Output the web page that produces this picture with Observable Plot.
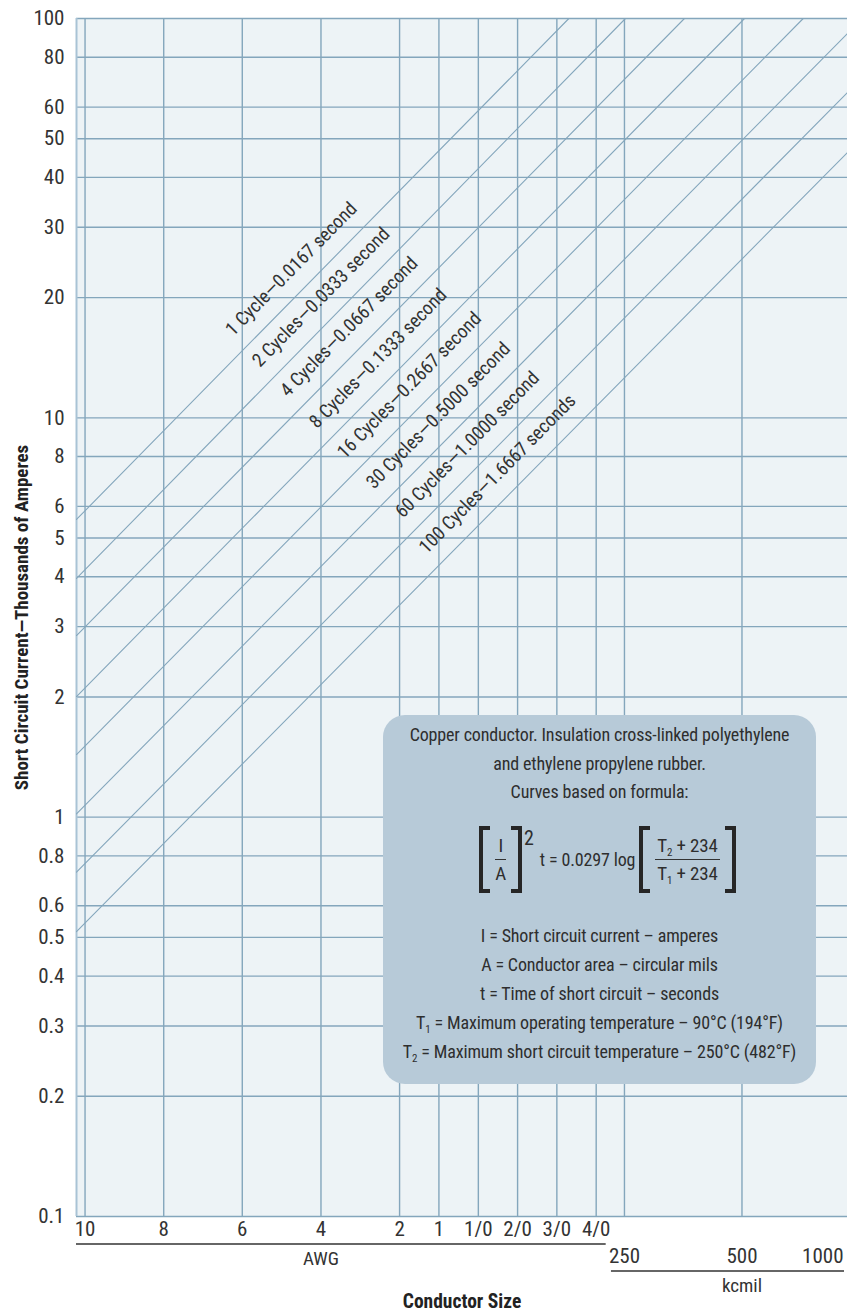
<!DOCTYPE html>
<html><head><meta charset="utf-8">
<script src="https://cdn.jsdelivr.net/npm/d3@7"></script>
<script src="https://cdn.jsdelivr.net/npm/@observablehq/plot@0.6"></script>
<style>
body{margin:0;background:#fff;}
#wrap{position:relative;width:847px;height:1315px;overflow:hidden;font-family:"Roboto Condensed",sans-serif;}
#note{position:absolute;left:383px;top:715px;width:433px;height:369px;background:#b7cad8;border-radius:22px;color:#2e2e2e;font-size:18px;letter-spacing:-0.15px;text-align:center;}
#note .blk{position:absolute;left:0;right:0;}
#note .t1{top:6px;line-height:28.5px;}
#note .f{top:111px;height:67px;display:flex;align-items:center;justify-content:center;padding-left:16px;}
#note .t2{top:206px;line-height:29px;}
.br{display:inline-block;width:7px;height:59px;border:4.5px solid #262626;}
.br.l{border-right:none;} .br.r{border-left:none;}
.frac{display:inline-flex;flex-direction:column;align-items:stretch;margin:0 5px;line-height:27px;font-size:19px;}
.frac span:first-child{border-bottom:1.5px solid #333;padding:0 2px;}
sub{font-size:11px;vertical-align:-4px;line-height:0;}
.sup{align-self:flex-start;margin:0 6px 0 2px;font-size:20px;}
</style></head>
<body><div id="wrap"></div>
<script>
// ---- data ----
const awgLabels = ["10","8","6","4","2","1","1/0","2/0","3/0","4/0"];
const awgCmil = [10380, 16510, 26240, 41740, 66360, 83690, 105600, 133100, 167800, 211600];
const kcmilLabels = ["250","500","1000"];
const kcmilCmil = [250000, 500000, 1000000];
const currentTicks = [0.1,0.2,0.3,0.4,0.5,0.6,0.8,1,2,3,4,5,6,8,10,20,30,40,50,60,80,100];
const cycleLabels = ["1 Cycle—0.0167 second","2 Cycles—0.0333 second","4 Cycles—0.0667 second","8 Cycles—0.1333 second","16 Cycles—0.2667 second","30 Cycles—0.5000 second","60 Cycles—1.0000 second","100 Cycles—1.6667 seconds"];
// current (kA) where each line enters at the left edge of the chart
const currentAtLeftEdge = [5.565, 3.960, 2.850, 2.005, 1.435, 1.019, 0.728, 0.517];
// where each line leaves the chart (size in cmil, current in kA)
const endSize = [180100, 251500, 356100, 507600, 717600, 931700, 931700, 931700];
const endCurrent = [100, 100, 100, 100, 100, 91.7, 65.3, 46.2];
// conductor size at which each line's label sits
const labelSize = [26640, 31170, 36780, 43640, 51470, 61070, 72460, 83360];

// ---- chart ----
const fontFamily = '"Roboto Condensed", sans-serif';
const xMin = 9870, xMax = 931700;
const W = 847, H = 1315, mT = 18, mB = 99, mL = 76;
const rows = [];
cycleLabels.forEach((name,i)=>{
  rows.push({name, size:xMin, current:currentAtLeftEdge[i]});
  rows.push({name, size:endSize[i], current:endCurrent[i]});
});
const labels = cycleLabels.map((name,i)=>{
  const s=labelSize[i];
  const t=(Math.log(s)-Math.log(xMin))/(Math.log(endSize[i])-Math.log(xMin));
  const c=Math.exp(Math.log(currentAtLeftEdge[i])+t*(Math.log(endCurrent[i])-Math.log(currentAtLeftEdge[i])));
  return {name,size:s,current:c};
});
const kIdx = kcmilCmil.map((d,i)=>i);
const kIn = kIdx.filter(i=>kcmilCmil[i]<=xMax), kOut = kIdx.filter(i=>kcmilCmil[i]>xMax);
const grid = "#84a6bc", ink = "#333";

const plot = Plot.plot({
  width: W, height: H, marginLeft: mL, marginRight: 0, marginTop: mT, marginBottom: mB,
  style: {fontFamily, fontSize: "20px", color: ink, background: "transparent", overflow: "visible"},
  x: {type: "log", domain: [xMin, xMax], axis: null},
  y: {type: "log", domain: [0.1, 100], axis: null},
  marks: [
    Plot.frame({fill: "#edf3f6", stroke: null}),
    Plot.ruleX(awgCmil.concat(kIn.map(i=>kcmilCmil[i])), {stroke: grid, strokeWidth: 1.4}),
    Plot.ruleY(currentTicks, {stroke: grid, strokeWidth: 1.4}),
    Plot.ruleX([xMin], {stroke: "#a9c3d5", strokeWidth: 2}),
    Plot.line(rows, {x: "size", y: "current", z: "name", stroke: grid, strokeWidth: 1.1, clip: true}),
    Plot.text(labels, {x: "size", y: "current", text: "name", rotate: -45.5, textAnchor: "start", lineAnchor: "bottom", dx: -11.5, dy: -11.5, fontSize: 19, fill: ink}),
    Plot.axisY(currentTicks, {tickSize: 0, tickPadding: 12, tickFormat: d => String(d), label: null, fontSize: 21}),
    Plot.text(awgCmil, {x: d => d, text: (d,i) => awgLabels[i], frameAnchor: "bottom", lineAnchor: "top", dy: 5, fontSize: 21, fill: ink}),
    Plot.text(kIn, {x: i => kcmilCmil[i], text: i => kcmilLabels[i], frameAnchor: "bottom", lineAnchor: "top", dy: 32, fontSize: 21, fill: ink}),
    Plot.text(kOut, {x: () => xMax, text: i => kcmilLabels[i], frameAnchor: "bottom", textAnchor: "end", lineAnchor: "top", dx: -4, dy: 32, fontSize: 21, fill: ink}),
    Plot.text(["AWG"], {x: () => awgCmil[3], frameAnchor: "bottom", lineAnchor: "middle", dy: 42, fontSize: 19, fill: ink}),
    Plot.text(["kcmil"], {x: () => kcmilCmil[1], frameAnchor: "bottom", lineAnchor: "middle", dy: 69, fontSize: 19, fill: ink}),
    Plot.text(["Conductor Size"], {frameAnchor: "bottom", lineAnchor: "middle", dy: 85, fontSize: 19.5, fontWeight: "bold", fill: "#222"}),
    Plot.text(["Short Circuit Current—Thousands of Amperes"], {frameAnchor: "left", textAnchor: "middle", rotate: -90, lineAnchor: "middle", dx: -55, fontSize: 19, fontWeight: "bold", fill: "#222"})
  ]
});
const xs = plot.scale("x"), yBottom = H - mB;
const svg = d3.select(plot);
svg.append("line").attr("x1", mL).attr("x2", xs.apply(awgCmil[9]) + 10).attr("y1", yBottom + 28).attr("y2", yBottom + 28).attr("stroke", "#333").attr("stroke-width", 1.5);
svg.append("line").attr("x1", xs.apply(kcmilCmil[0]) - 13).attr("x2", W - 3).attr("y1", yBottom + 55).attr("y2", yBottom + 55).attr("stroke", "#333").attr("stroke-width", 1.5);
const wrap = document.getElementById("wrap");
wrap.appendChild(plot);

const note = document.createElement("div");
note.id = "note";
note.innerHTML = `
<div class="blk t1">Copper conductor. Insulation cross-linked polyethylene<br>and ethylene propylene rubber.<br>Curves based on formula:</div>
<div class="blk f"><span class="br l"></span><span class="frac"><span>I</span><span>A</span></span><span class="br r"></span><span class="sup">2</span><span>t = 0.0297 log&nbsp;</span><span class="br l"></span><span class="frac"><span>T<sub>2</sub> + 234</span><span>T<sub>1</sub> + 234</span></span><span class="br r"></span></div>
<div class="blk t2">I = Short circuit current – amperes<br>A = Conductor area – circular mils<br>t = Time of short circuit – seconds<br>T<sub>1</sub> = Maximum operating temperature – 90°C (194°F)<br>T<sub>2</sub> = Maximum short circuit temperature – 250°C (482°F)</div>`;
wrap.appendChild(note);
</script>
</body></html>
